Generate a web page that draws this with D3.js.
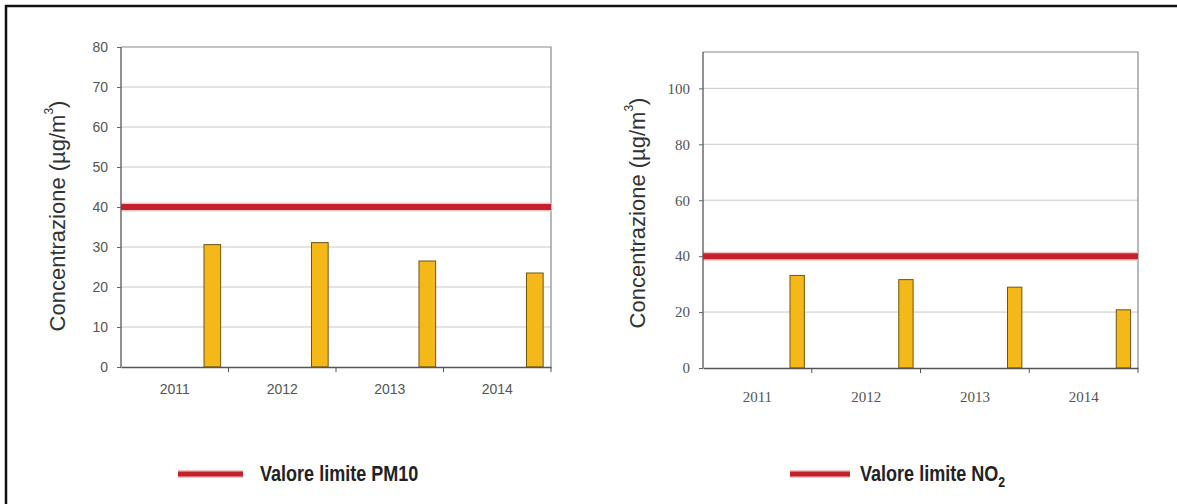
<!DOCTYPE html>
<html>
<head>
<meta charset="utf-8">
<script src="https://cdn.jsdelivr.net/npm/d3@7"></script>
<style>
  html, body { margin: 0; padding: 0; background: #fff; }
  svg { display: block; }
</style>
</head>
<body>
<div id="chart"></div>
<script>
/* === PM10 / NO2 annual means vs limit value === */

// data
const years = ["2011", "2012", "2013", "2014"];
const pm10Values = [30.6, 31.1, 26.5, 23.5];
const no2Values = [33.1, 31.6, 28.9, 20.8];
const pm10Limit = 40;
const no2Limit = 40;
const pm10Ticks = [0, 10, 20, 30, 40, 50, 60, 70, 80];
const no2Ticks = [0, 20, 40, 60, 80, 100];
const pm10Max = 80;
const no2Max = 113;

const W = 1177, H = 504;

const svg = d3.select("#chart").append("svg")
  .attr("width", W)
  .attr("height", H);

// frame (only top and left edges show in the source image)
svg.append("path")
  .attr("d", `M6,${H} V6 H${W}`)
  .attr("fill", "none")
  .attr("stroke", "#111")
  .attr("stroke-width", 2.5);

function drawPanel(cfg) {
  const g = svg.append("g");

  const x = d3.scaleBand().domain(years).range([cfg.left, cfg.right]);
  const y = d3.scaleLinear().domain([0, cfg.max]).range([cfg.bottom, cfg.top]);

  // gridlines
  g.selectAll(".grid")
    .data(cfg.ticks.filter(t => t > 0 && t < cfg.max))
    .join("line")
      .attr("x1", cfg.left).attr("x2", cfg.right)
      .attr("y1", d => y(d)).attr("y2", d => y(d))
      .attr("stroke", "#c9c9c9")
      .attr("stroke-width", 1);

  // plot box top / right
  g.append("path")
    .attr("d", `M${cfg.left},${cfg.top} H${cfg.right} V${cfg.bottom}`)
    .attr("fill", "none")
    .attr("stroke", "#8a8a8a")
    .attr("stroke-width", 1.2);

  // bars
  g.selectAll(".bar")
    .data(cfg.values)
    .join("rect")
      .attr("x", (d, i) => x(years[i]) + x.bandwidth() * cfg.barFrom)
      .attr("width", x.bandwidth() * (cfg.barTo - cfg.barFrom))
      .attr("y", d => y(d))
      .attr("height", d => y(0) - y(d))
      .attr("fill", "#f4b919")
      .attr("stroke", "#6e5412")
      .attr("stroke-width", 1);

  // limit line
  g.append("line")
    .attr("x1", cfg.left).attr("x2", cfg.right)
    .attr("y1", y(cfg.limit)).attr("y2", y(cfg.limit))
    .attr("stroke", "#f3c6c6")
    .attr("stroke-width", 9);
  g.append("line")
    .attr("x1", cfg.left).attr("x2", cfg.right)
    .attr("y1", y(cfg.limit)).attr("y2", y(cfg.limit))
    .attr("stroke", "#c3222c")
    .attr("stroke-width", 6);

  // y axis
  const yAxis = g.append("g")
    .attr("transform", `translate(${cfg.left},0)`)
    .call(d3.axisLeft(y).tickValues(cfg.ticks).tickSize(4).tickPadding(cfg.tickPad));
  yAxis.select(".domain").attr("stroke", "#555").attr("stroke-width", 1.3)
    .attr("d", `M0,${cfg.top} V${cfg.bottom}`);
  yAxis.selectAll(".tick line").attr("stroke", "#666");
  yAxis.selectAll(".tick text")
    .attr("fill", "#555")
    .style("font-family", cfg.tickFont)
    .style("font-size", cfg.tickSize);

  // x axis
  const xAxis = g.append("g")
    .attr("transform", `translate(0,${cfg.bottom})`)
    .call(d3.axisBottom(x).tickSize(0).tickPadding(cfg.xPad));
  xAxis.select(".domain").attr("stroke", "#555").attr("stroke-width", 1.3);
  xAxis.selectAll(".tick text")
    .attr("fill", "#555")
    .style("font-family", cfg.tickFont)
    .style("font-size", cfg.tickSize);
  // category separators
  g.selectAll(".sep")
    .data(years.map(d => x(d) + x.bandwidth()))
    .join("line")
      .attr("x1", d => d).attr("x2", d => d)
      .attr("y1", cfg.bottom).attr("y2", cfg.bottom + 5)
      .attr("stroke", "#555");

  // y title
  const yt = g.append("text")
    .attr("transform", `translate(${cfg.titleX},${cfg.titleY}) rotate(-90)`)
    .attr("text-anchor", "middle")
    .attr("dominant-baseline", "central")
    .attr("fill", "#333")
    .style("font-family", "'Liberation Sans', Arial, sans-serif")
    .style("font-size", "22px");
  yt.append("tspan").text("Concentrazione  (\u00B5g/m");
  yt.append("tspan").attr("dy", -8).style("font-size", "12px").text("3");
  yt.append("tspan").attr("dy", 8).text(")");

  // legend
  const lg = g.append("g").attr("transform", `translate(${cfg.legendX},${cfg.legendY})`);
  lg.append("line")
    .attr("x1", 0).attr("x2", cfg.legendLen)
    .attr("stroke", "#f3c6c6").attr("stroke-width", 8);
  lg.append("line")
    .attr("x1", 0).attr("x2", cfg.legendLen)
    .attr("stroke", "#c3222c").attr("stroke-width", 5);
  const lt = lg.append("text")
    .attr("transform", `translate(${cfg.legendLen + cfg.legendGap},7) scale(0.82,1)`)
    .attr("fill", "#222")
    .style("font-family", "'Liberation Sans', Arial, sans-serif")
    .style("font-weight", "bold")
    .style("font-size", "22px");
  lt.append("tspan").text(cfg.legendText);
  if (cfg.legendSub) {
    lt.append("tspan").attr("dy", 6).style("font-size", "15px").text(cfg.legendSub);
  }
}

drawPanel({
  left: 121, right: 551, top: 47, bottom: 367,
  max: pm10Max, ticks: pm10Ticks, values: pm10Values, limit: pm10Limit,
  barFrom: 0.772, barTo: 0.927,
  tickFont: "'Liberation Sans', Arial, sans-serif", tickSize: "14px",
  tickPad: 9, xPad: 17,
  titleX: 57, titleY: 216,
  legendX: 178, legendY: 474, legendLen: 65, legendGap: 17,
  legendText: "Valore limite PM10"
});

drawPanel({
  left: 703, right: 1138, top: 52, bottom: 368,
  max: no2Max, ticks: no2Ticks, values: no2Values, limit: no2Limit,
  barFrom: 0.80, barTo: 0.932,
  tickFont: "'Liberation Serif', 'Times New Roman', serif", tickSize: "15px",
  tickPad: 9, xPad: 23,
  titleX: 637, titleY: 213,
  legendX: 790, legendY: 474, legendLen: 60, legendGap: 10,
  legendText: "Valore limite NO", legendSub: "2"
});
</script>
</body>
</html>
